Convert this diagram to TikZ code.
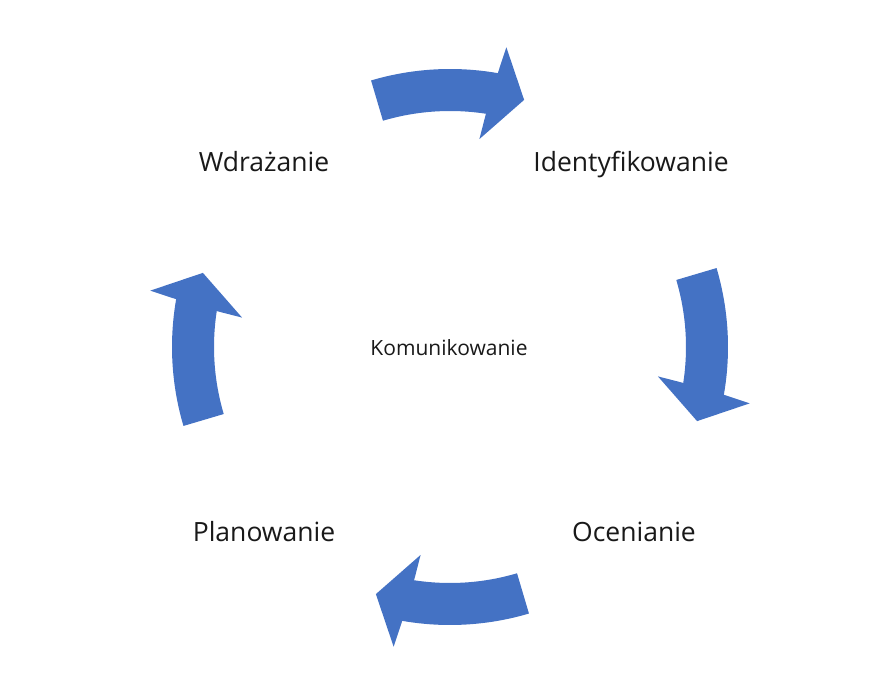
\documentclass[tikz,border=0pt]{standalone}
\usepackage{fontspec}
\setmainfont{Open Sans}
\definecolor{arrowblue}{HTML}{4472C4}
\tikzset{
  lbl/.style={anchor=base, inner sep=0pt, font=\fontsize{26.5}{30}\selectfont, text=black!90},
  center lbl/.style={anchor=base, inner sep=0pt, font=\fontsize{21}{24}\selectfont, text=black!90},
  cyclearrow/.style={fill=arrowblue, draw=none}
}
\newcommand{\cycarrow}[1]{%
  \fill[cyclearrow] ({#1+16.5}:278) arc[start angle={#1+16.5}, end angle={#1-9.9}, radius=278]
    -- ({#1-10.65}:305) -- ({#1-16.7}:258) -- ({#1-8.05}:210) -- ({#1-8.75}:236)
    arc[start angle={#1-8.75}, end angle={#1+16.5}, radius=236] -- cycle;}
\begin{document}
\begin{tikzpicture}[x=1pt,y=1pt]
\useasboundingbox (0,0) rectangle (894,678);
\begin{scope}[shift={(450,331)}]
  \cycarrow{90}
  \cycarrow{0}
  \cycarrow{-90}
  \cycarrow{180}
\end{scope}
\node[lbl] (wdr) at (264,506) {Wdrażanie};
\node[lbl] (ide) at (631,506) {Identyfikowanie};
\node[lbl] (oce) at (634,137) {Ocenianie};
\node[lbl] (pla) at (264,137) {Planowanie};
\node[center lbl] (kom) at (449,322) {Komunikowanie};
\end{tikzpicture}
\end{document}
